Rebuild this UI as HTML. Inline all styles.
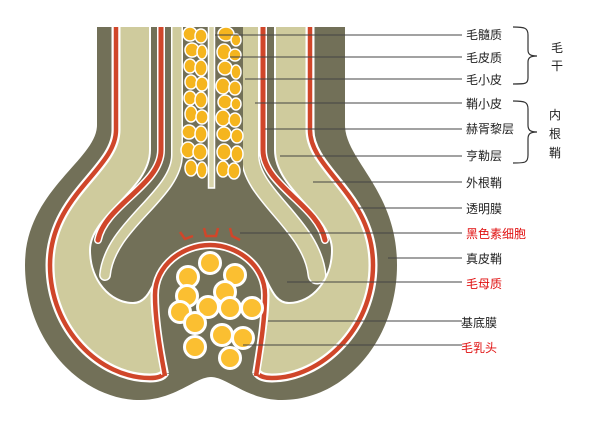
<!DOCTYPE html>
<html><head><meta charset="utf-8"><style>
html,body{margin:0;padding:0;background:#fff;}
svg{display:block;}
text{font-family:"Liberation Sans","Noto Sans CJK SC",sans-serif;font-size:12px;fill:#222;}
</style></head><body>
<svg width="607" height="423" viewBox="0 0 607 423" xmlns="http://www.w3.org/2000/svg">
<defs><clipPath id="c"><rect x="0" y="27" width="607" height="400"/></clipPath></defs>
<g clip-path="url(#c)">
<path d="M97,20 L97,125 C97,160 25,190 25,265 C25,340 80,400 140,400 C175,400 195,377 211,377 C227,377 247,400 282,400 C345,400 397,340 397,265 C397,190 345,160 345,125 L345,20 Z" fill="#727058"/>
<path d="M116,20 L116,130 C116,170 50,195 50,265 C50,330 100,378 150,378 C165,378 168,372 165,360 C160,340 155,320 155,295 C155,265 183,245 210,245 C237,245 265,265 265,295 C265,320 260,340 256,360 C253,372 258,378 272,378 C320,378 373,330 373,265 C373,195 310,170 310,130 L310,20 Z" fill="#cfcb9d" stroke="#fff" stroke-width="9"/>
<path d="M116,20 L116,130 C116,170 50,195 50,265 C50,330 100,378 150,378 C165,378 168,372 165,360 C160,340 155,320 155,295 C155,265 183,245 210,245 C237,245 265,265 265,295 C265,320 260,340 256,360 C253,372 258,378 272,378 C320,378 373,330 373,265 C373,195 310,170 310,130 L310,20" fill="none" stroke="#d0462a" stroke-width="4.5"/>
<path d="M150,20 L150,150 C150,190 90,215 90,250 C90,280 110,303 133,303 C148,303 152,285 160,272 C172,255 190,243 211,243 C232,243 250,255 262,272 C270,285 274,303 289,303 C312,303 332,280 332,250 C332,215 275,190 275,150 L275,20 Z" fill="#727058" stroke="#fff" stroke-width="2"/>
<g fill="none" stroke-linecap="round">
<path d="M161,20 L161,150 C161,185 105,205 98,240" stroke="#fff" stroke-width="8"/>
<path d="M161,20 L161,150 C161,185 105,205 98,240" stroke="#d0462a" stroke-width="5"/>
<path d="M263,20 L263,150 C263,185 318,205 325,240" stroke="#fff" stroke-width="8"/>
<path d="M263,20 L263,150 C263,185 318,205 325,240" stroke="#d0462a" stroke-width="5"/>
<path d="M177,20 L177,155 C177,195 110,225 105,275" stroke="#fff" stroke-width="12"/>
<path d="M177,20 L177,155 C177,195 110,225 105,275" stroke="#cfcb9d" stroke-width="9"/>
<path d="M250,20 L250,155 C250,195 312,225 317,275" stroke="#fff" stroke-width="19"/>
<path d="M250,20 L250,155 C250,195 312,225 317,275" stroke="#cfcb9d" stroke-width="16"/>
</g>
<rect x="183" y="20" width="60" height="165" fill="#727058"/>
<path d="M165,374 C160,350 155,320 155,295 C155,265 183,245 210,245 C237,245 265,265 265,295 C265,320 260,350 256,374" fill="#727058" stroke="#fff" stroke-width="8"/>
<path d="M165,376 C160,350 155,320 155,295 C155,265 183,245 210,245 C237,245 265,265 265,295 C265,320 260,350 256,376" fill="none" stroke="#d0462a" stroke-width="4.5"/>
<rect x="208.5" y="20" width="6" height="168" fill="#d8d4ac" stroke="#fff" stroke-width="1.5"/>
<g fill="#f5b51e" stroke="#fff" stroke-width="1.5">
<ellipse cx="190" cy="34" rx="7" ry="7"/><ellipse cx="201" cy="36" rx="6" ry="7"/>
<ellipse cx="226" cy="34" rx="8" ry="7"/><ellipse cx="236" cy="40" rx="5" ry="6"/>
<ellipse cx="192" cy="50" rx="7" ry="7"/><ellipse cx="202" cy="52" rx="5" ry="7"/>
<ellipse cx="224" cy="52" rx="7" ry="8"/><ellipse cx="235" cy="55" rx="6" ry="6"/>
<ellipse cx="190" cy="66" rx="6" ry="7"/><ellipse cx="201" cy="68" rx="6" ry="8"/>
<ellipse cx="225" cy="68" rx="7" ry="7"/><ellipse cx="236" cy="72" rx="5" ry="7"/>
<ellipse cx="191" cy="82" rx="6" ry="7"/><ellipse cx="202" cy="84" rx="6" ry="7"/>
<ellipse cx="223" cy="86" rx="7" ry="8"/><ellipse cx="235" cy="88" rx="6" ry="7"/>
<ellipse cx="190" cy="98" rx="6" ry="7"/><ellipse cx="201" cy="100" rx="6" ry="8"/>
<ellipse cx="225" cy="102" rx="7" ry="7"/><ellipse cx="236" cy="104" rx="5" ry="6"/>
<ellipse cx="191" cy="114" rx="6" ry="8"/><ellipse cx="202" cy="117" rx="6" ry="7"/>
<ellipse cx="223" cy="118" rx="7" ry="8"/><ellipse cx="235" cy="120" rx="6" ry="7"/>
<ellipse cx="189" cy="132" rx="7" ry="7"/><ellipse cx="201" cy="134" rx="6" ry="8"/>
<ellipse cx="224" cy="134" rx="7" ry="7"/><ellipse cx="237" cy="136" rx="6" ry="7"/>
<ellipse cx="188" cy="150" rx="7" ry="8"/><ellipse cx="200" cy="152" rx="7" ry="8"/>
<ellipse cx="224" cy="152" rx="7" ry="8"/><ellipse cx="237" cy="154" rx="6" ry="8"/>
<ellipse cx="191" cy="168" rx="6" ry="8"/><ellipse cx="202" cy="170" rx="5" ry="8"/>
<ellipse cx="223" cy="169" rx="6" ry="8"/><ellipse cx="234" cy="171" rx="6" ry="8"/>
</g>
<g fill="none" stroke="#d0462a" stroke-width="2.5">
<path d="M180,232 L185,239 L193,236"/><path d="M204,228 L206,236 L216,236 L218,228"/><path d="M230,228 L232,236 L240,240"/>
</g>
<g fill="#fbbf31" stroke="#fff" stroke-width="3">
<circle cx="210" cy="263" r="10.5"/><circle cx="188" cy="277" r="10.5"/><circle cx="235" cy="275" r="10.5"/>
<circle cx="225" cy="292" r="10.5"/><circle cx="187" cy="296" r="10.5"/><circle cx="208" cy="307" r="10.5"/>
<circle cx="180" cy="312" r="10.5"/><circle cx="230" cy="308" r="10.5"/><circle cx="252" cy="308" r="10.5"/>
<circle cx="195" cy="323" r="10.5"/><circle cx="222" cy="335" r="10.5"/><circle cx="243" cy="338" r="10.5"/>
<circle cx="195" cy="347" r="10.5"/><circle cx="230" cy="358" r="10.5"/>
</g>
</g>
<g stroke="#444" stroke-width="1">
<line x1="215" y1="35" x2="462" y2="35"/>
<line x1="230" y1="57" x2="462" y2="57"/>
<line x1="245" y1="79" x2="462" y2="79"/>
<line x1="255" y1="103" x2="462" y2="103"/>
<line x1="265" y1="129" x2="462" y2="129"/>
<line x1="280" y1="156" x2="462" y2="156"/>
<line x1="313" y1="182" x2="462" y2="182"/>
<line x1="358" y1="208" x2="462" y2="208"/>
<line x1="240" y1="233" x2="462" y2="233"/>
<line x1="388" y1="258" x2="462" y2="258"/>
<line x1="287" y1="282" x2="462" y2="282"/>
<line x1="268" y1="321" x2="462" y2="321"/>
<line x1="243" y1="345" x2="462" y2="345"/>
</g>
<text x="466" y="39">毛髓质</text>
<text x="466" y="62">毛皮质</text>
<text x="466" y="84">毛小皮</text>
<text x="466" y="108">鞘小皮</text>
<text x="466" y="133">赫胥黎层</text>
<text x="466" y="160">亨勒层</text>
<text x="466" y="187">外根鞘</text>
<text x="466" y="213">透明膜</text>
<text x="466" y="238" style="fill:#e01010">黑色素细胞</text>
<text x="466" y="263">真皮鞘</text>
<text x="466" y="288" style="fill:#e01010">毛母质</text>
<text x="461" y="327">基底膜</text>
<text x="461" y="352" style="fill:#e01010">毛乳头</text>
<g fill="none" stroke="#333" stroke-width="1.2">
<path d="M513,27 C525,27 528,28 528,35 L528,50 C528,54 530,56 537,56 C530,56 528,58 528,62 L528,78 C528,84 525,84 513,84"/>
<path d="M513,101 C525,101 528,102 528,109 L528,125 C528,130 530,132 537,132 C530,132 528,134 528,139 L528,155 C528,163 525,163 513,163"/>
</g>
<text x="551" y="52">毛</text><text x="551" y="70">干</text>
<text x="549" y="119">内</text><text x="549" y="138">根</text><text x="549" y="157">鞘</text>
</svg>
</body></html>
